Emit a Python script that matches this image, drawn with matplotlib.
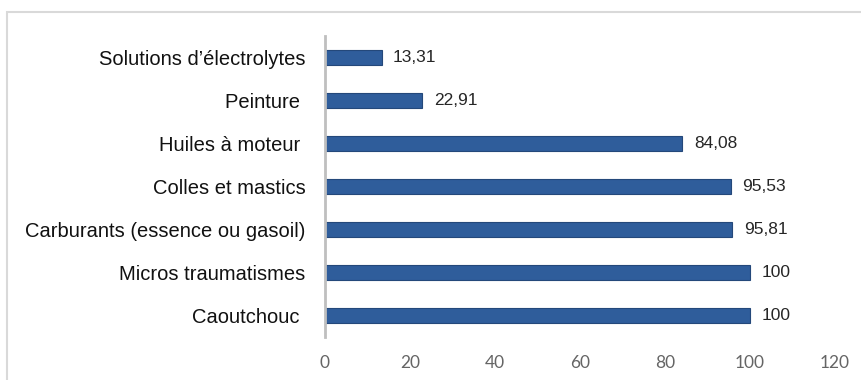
import matplotlib.pyplot as plt
from matplotlib.patches import Rectangle

categories = ["Solutions d\u2019électrolytes", "Peinture ", "Huiles à moteur ",
              "Colles et mastics", "Carburants (essence ou gasoil)",
              "Micros traumatismes", "Caoutchouc "]
values = [13.31, 22.91, 84.08, 95.53, 95.81, 100, 100]
xticks = [0, 20, 40, 60, 80, 100, 120]

narrow = ["Liberation Sans Narrow", "Liberation Sans", "DejaVu Sans"]

fig = plt.figure(figsize=(8.61, 3.80), dpi=100)
ax = fig.add_axes([325 / 861, 43 / 380, (835 - 325) / 861, 301 / 380])

# outer chart frame
fig.patches.append(Rectangle((7 / 861, -0.1), 1.2, 1.1 - 12 / 380,
                             transform=fig.transFigure, fill=False,
                             edgecolor="#d9d9d9", lw=1.5))

pos = list(range(len(categories)))[::-1]
ax.barh(pos, values, height=0.37, color="#2f5d9b", edgecolor="#24487a", lw=0.8)

for p, v in zip(pos, values):
    txt = f"{v:.2f}".replace(".", ",") if v != int(v) else str(int(v))
    ax.text(v + 2.7, p, txt, va="center", ha="left", fontsize=12.5,
            family=narrow, color="#262626")

ax.set_xlim(0, 120)
ax.set_ylim(-0.5, 6.5)
ax.set_yticks(pos)
ax.set_yticklabels(categories, family=narrow, fontsize=14.5, color="#111111")
ax.set_xticks(xticks)
ax.set_xticklabels([str(t) for t in xticks], family="Lato", fontsize=12.5,
                   color="#656565")
ax.tick_params(axis="y", length=0, pad=14)
ax.tick_params(axis="x", length=0, pad=13)

for s in ["top", "right", "bottom"]:
    ax.spines[s].set_visible(False)
ax.spines["left"].set_color("#bfbfbf")
ax.spines["left"].set_linewidth(2)

fig.savefig("out.png", dpi=100)
